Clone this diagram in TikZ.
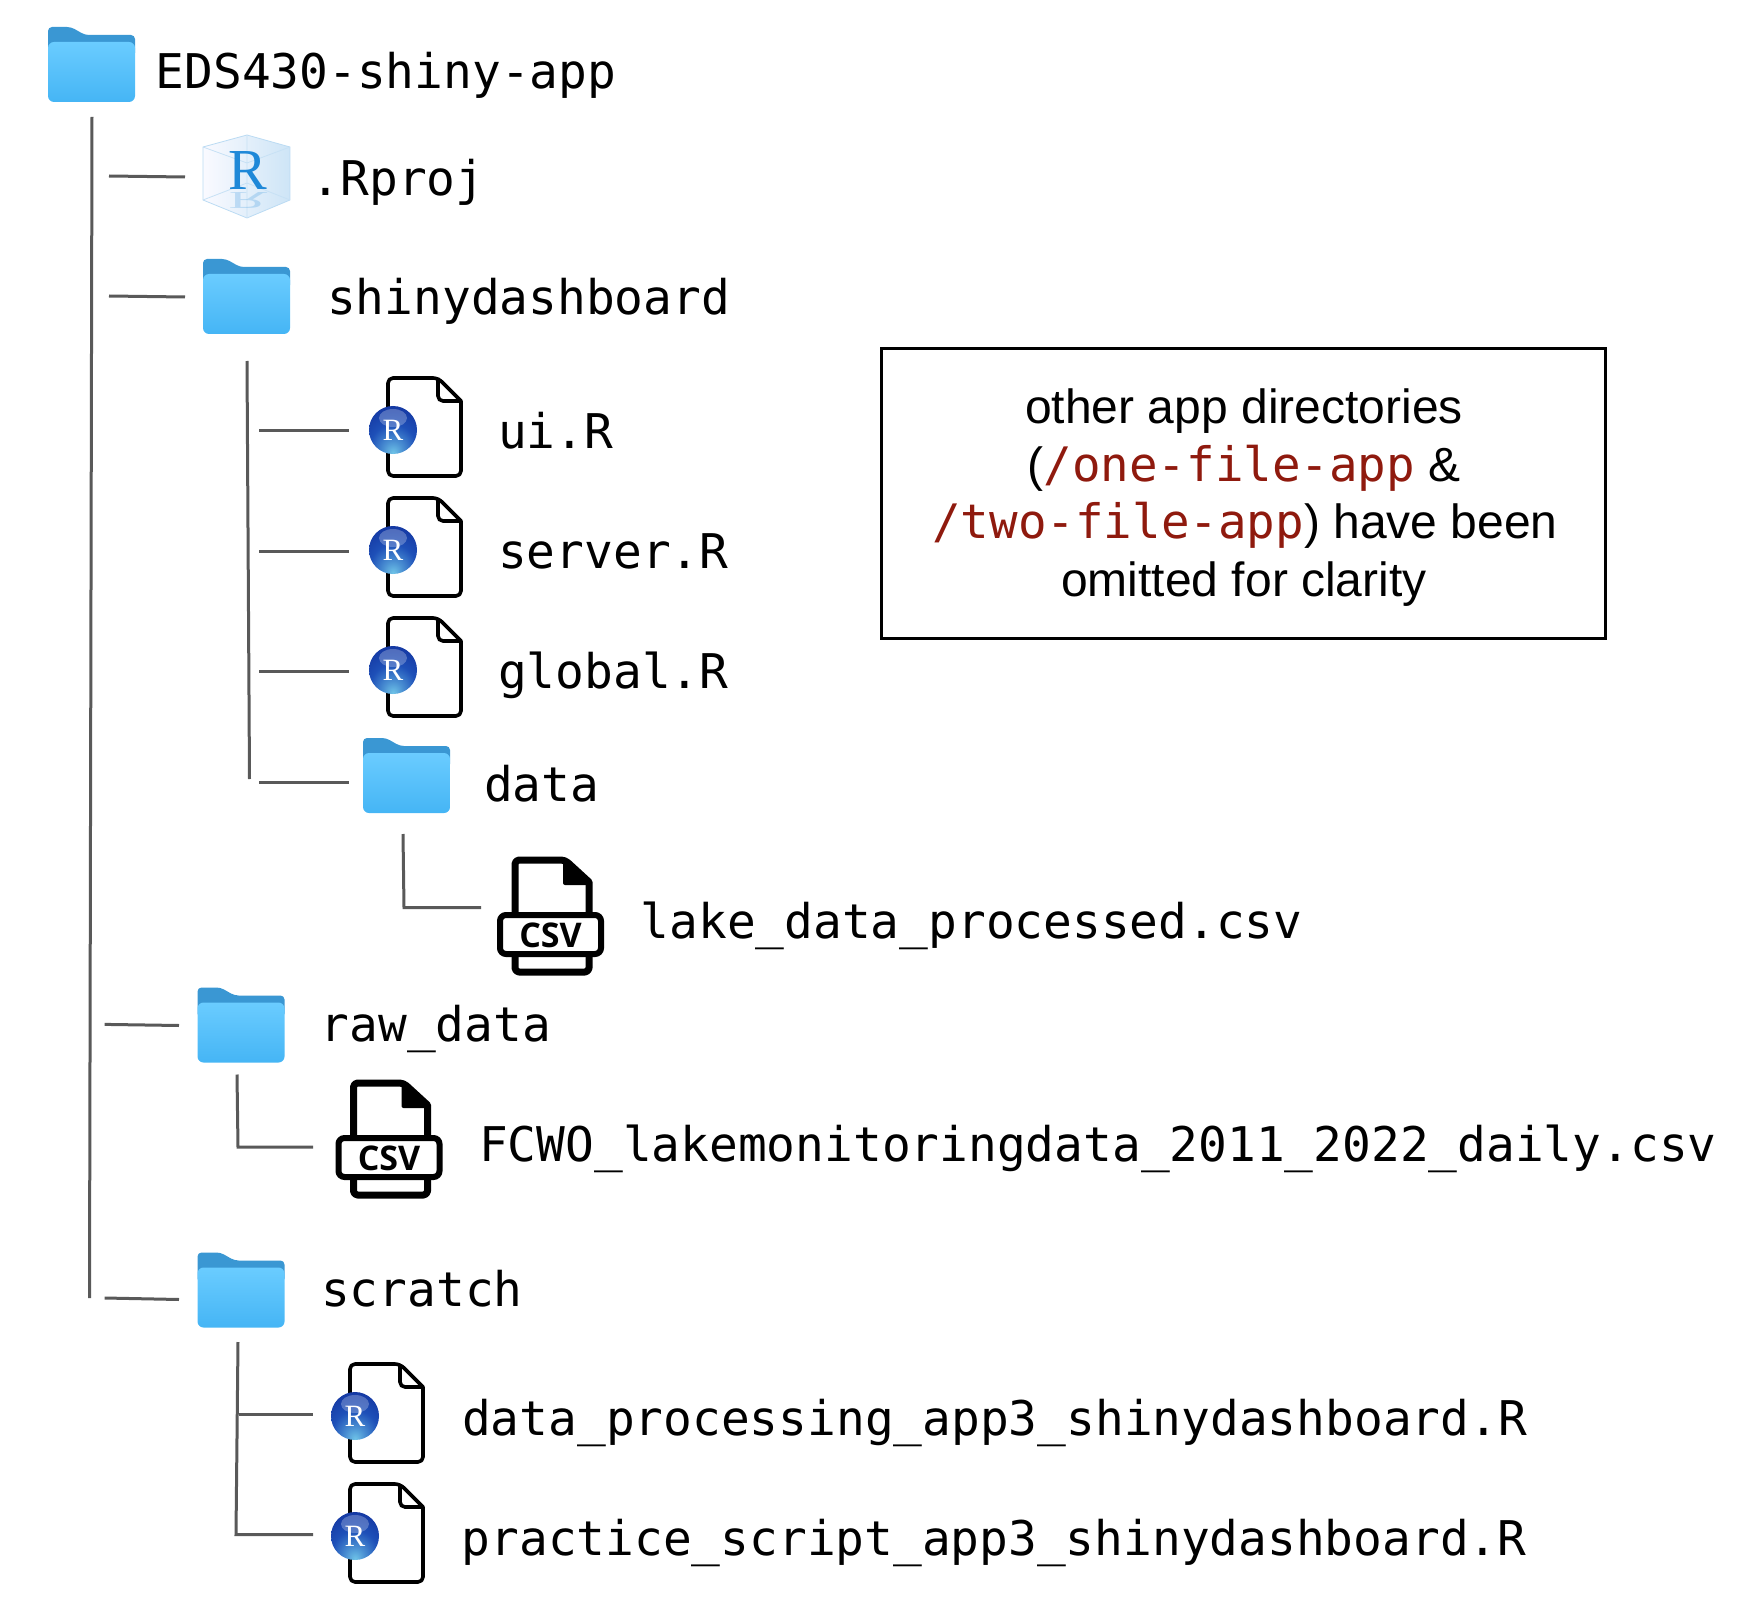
\documentclass[tikz,border=0pt]{standalone}
\usepackage{fontspec}
\setmainfont{Liberation Sans}
\newfontfamily\monof{DejaVu Sans Mono}
\newfontfamily\csvf{Open Sans}
\newfontfamily\serf{Liberation Serif}
\definecolor{folderdark}{HTML}{3A97D3}
\definecolor{foldertop}{HTML}{6ACCFF}
\definecolor{folderbot}{HTML}{45B5F5}
\definecolor{linegray}{HTML}{595959}
\definecolor{codered}{HTML}{8F1A0E}
\definecolor{rblue}{HTML}{1E88D8}
\definecolor{ballc}{HTML}{6FC4E8}
\definecolor{ballm}{HTML}{1E50B8}
\definecolor{ballo}{HTML}{102C98}
\pgfdeclareradialshading{rball}{\pgfpoint{0bp}{-24bp}}{
  color(0bp)=(ballc); color(10bp)=(ballc!55!ballm); color(24bp)=(ballm); color(48bp)=(ballo); color(100bp)=(ballo)}
\tikzset{
  conn/.style={draw=linegray,line width=3pt},
  label/.style={anchor=base west,inner sep=0pt,xshift=-2.5pt,yshift=1pt,font=\monof\fontsize{47.8}{57}\selectfont,text=black},
  folder/.pic={
    \fill[folderdark,rounded corners=4pt] (0,15) -- (0,0) -- (23,0) -- (37,8) -- (87,8) -- (87,30) -- (0,30) -- cycle;
    \shade[top color=foldertop,bottom color=folderbot,rounded corners=6pt] (0,15) rectangle (87,75);
  },
  rproj/.pic={
    \shade[left color=blue!2!white,right color=rblue!22!white] (0,12) -- (44,0) -- (87,12) -- (87,65) -- (44,83) -- (0,65) -- cycle;
    \draw[rblue!30!white,line width=.8pt] (0,12) -- (44,0) -- (87,12) -- (87,65) -- (44,83) -- (0,65) -- cycle;
    \draw[rblue!25!white,line width=.8pt] (0,12) -- (44,28) -- (87,12) (0,65) -- (44,48) -- (87,65) (44,0) -- (44,83);
    \node[inner sep=0pt,text=rblue,font=\serf\fontsize{58}{58}\selectfont] (-r) at (45,36) {R};
    \node[inner sep=0pt,text=rblue,opacity=.22,font=\serf\fontsize{58}{58}\selectfont,yscale=-.42] (-m) at (45,65) {R};
  },
  rfile/.pic={
    \draw[black,fill=white,line width=3.6pt,line join=round,rounded corners=5pt] (1,1) -- (51,1) [sharp corners] -- (74,24) [rounded corners=5pt] -- (74,99) -- (1,99) -- cycle;
    \draw[black,line width=3.6pt,rounded corners=5pt] (51,1) -- (51,24) -- (74,24);
    \shade[shading=rball] (6,53) circle (24);
    \fill[white,opacity=.25] (6,41) ellipse (14 and 9);
    \node[inner sep=0pt,text=white,font=\serf\fontsize{31}{31}\selectfont] (-r) at (6,53) {R};
  },
  csvfile/.pic={
    \draw[black,fill=white,line width=7pt,line join=round,rounded corners=4pt] (18,4) -- (68,4) [sharp corners] -- (92,26) [rounded corners=4pt] -- (92,116) -- (18,116) -- cycle;
    \fill[black,rounded corners=2pt] (66,3) -- (95,29) -- (66,29) -- cycle;
    \draw[black,fill=white,line width=6pt,rounded corners=6pt] (3,59) rectangle (104,98);
    \node[inner sep=0pt,font=\csvf\bfseries\fontsize{34}{34}\selectfont] (-t) at (53.5,79) {CSV};
  }
}
\begin{document}
\begin{tikzpicture}[x=1pt,y=-1pt]
\useasboundingbox (0,0) rectangle (1746,1602);
% icons
\pic (root) at (48,27) {folder};
\pic (proj) at (203,135) {rproj};
\pic (shiny) at (203,259) {folder};
\pic (ui) at (387,377) {rfile};
\pic (server) at (387,497) {rfile};
\pic (global) at (387,617) {rfile};
\pic (data) at (363,738) {folder};
\pic (lake) at (497,856) {csvfile};
\pic (raw) at (197.5,987.5) {folder};
\pic (fcwo) at (335.5,1079) {csvfile};
\pic (scratch) at (197.5,1252.5) {folder};
\pic (dproc) at (349,1363) {rfile};
\pic (pract) at (349,1483) {rfile};
% labels
\node[label] (l1) at (158,90) {EDS430-shiny-app};
\node[label] (l2) at (314,196.5) {.Rproj};
\node[label] (l3) at (329.5,316) {shinydashboard};
\node[label] (l4) at (500.5,449.5) {ui.R};
\node[label] (l5) at (500.5,569) {server.R};
\node[label] (l6) at (500.5,689) {global.R};
\node[label] (l7) at (486.5,802) {data};
\node[label] (l8) at (643,939) {lake\_data\_processed.csv};
\node[label] (l9) at (323,1042) {raw\_data};
\node[label] (l10) at (481.5,1162.5) {FCWO\_lakemonitoringdata\_2011\_2022\_daily.csv};
\node[label] (l11) at (323.5,1307) {scratch};
\node[label] (l12) at (464.5,1436) {data\_processing\_app3\_shinydashboard.R};
\node[label] (l13) at (464,1556) {practice\_script\_app3\_shinydashboard.R};
% note box
\node[draw=black,line width=3pt,minimum width=724pt,minimum height=290pt,inner sep=0pt] (note) at (1243.5,493.7) {};
\node[inner sep=0pt,anchor=base] (n1) at (1244,424) {\fontsize{48}{57}\selectfont other app directories};
\node[inner sep=0pt,anchor=base] (n2) at (1244,481) {\fontsize{48}{57}\selectfont (\textcolor{codered}{\monof\fontsize{47.5}{57}\selectfont /one-file-app} \&};
\node[inner sep=0pt,anchor=base] (n3) at (1245,538) {\fontsize{48}{57}\selectfont \textcolor{codered}{\monof\fontsize{47.5}{57}\selectfont /two-file-app}) have been};
\node[inner sep=0pt,anchor=base] (n4) at (1244,596) {\fontsize{48}{57}\selectfont omitted for clarity};
% connector ends
\coordinate (a0) at (92,117); \coordinate (a1) at (89.5,1298);
\coordinate (b0) at (109,176); \coordinate (b1) at (185,177);
\coordinate (c0) at (109,296); \coordinate (c1) at (185,297);
\coordinate (d0) at (247,361); \coordinate (d1) at (249.5,779);
\coordinate (e0) at (259,431); \coordinate (e1) at (348.5,431);
\coordinate (f0) at (259,551); \coordinate (f1) at (348.5,551);
\coordinate (g0) at (259,671.5); \coordinate (g1) at (348.5,671.5);
\coordinate (h0) at (259,782.5); \coordinate (h1) at (348.5,782.5);
\coordinate (i0) at (403,834); \coordinate (i1) at (404,907.5); \coordinate (i2) at (481,907.5);
\coordinate (j0) at (104.7,1024.4); \coordinate (j1) at (179,1025.5);
\coordinate (k0) at (237,1074.5); \coordinate (k1) at (238,1147); \coordinate (k2) at (313,1147);
\coordinate (m0) at (104.7,1298); \coordinate (m1) at (179,1299.5);
\coordinate (o0) at (238,1342); \coordinate (o1) at (236,1534.5); \coordinate (o2) at (313,1534.5);
\coordinate (p0) at (238.5,1414); \coordinate (p1) at (313,1414);
% connectors
\draw[conn] (a0) -- (a1);
\draw[conn] (b0) -- (b1);
\draw[conn] (c0) -- (c1);
\draw[conn] (d0) -- (d1);
\draw[conn] (e0) -- (e1);
\draw[conn] (f0) -- (f1);
\draw[conn] (g0) -- (g1);
\draw[conn] (h0) -- (h1);
\draw[conn] (i0) -- (i1) -- (i2);
\draw[conn] (j0) -- (j1);
\draw[conn] (k0) -- (k1) -- (k2);
\draw[conn] (m0) -- (m1);
\draw[conn] (o0) -- (o1) -- (o2);
\draw[conn] (p0) -- (p1);
\end{tikzpicture}
\end{document}
